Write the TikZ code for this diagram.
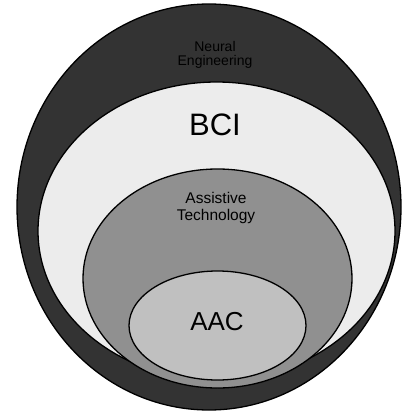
\documentclass[tikz,border=0pt]{standalone}
\usepackage{fontspec}
\setmainfont{Liberation Sans}
\usepackage{xcolor}
\definecolor{necol}{HTML}{333333}
\definecolor{bcicol}{HTML}{ECECEC}
\definecolor{atcol}{HTML}{909090}
\definecolor{aaccol}{HTML}{C0C0C0}
\tikzset{field/.style = {draw=black,line width=1.3pt}}
\tikzset{lbl/.style = {align=center,inner sep=0pt,text=black}}

\begin{document}
\begin{tikzpicture}[x=1pt,y=-1pt]
                \useasboundingbox (0,0) rectangle (402,412);
                \filldraw[field,fill=necol] (209,207) ellipse (192 and 203);
                \filldraw[field,fill=bcicol] (216.5,231) ellipse (178.5 and 149);
                \filldraw[field,fill=atcol] (217.5,278.5) ellipse (134.5 and 109.5);
                \filldraw[field,fill=aaccol] (217.5,325.5) ellipse (88.5 and 54.5);

                \node[lbl,font=\fontsize{14}{14}\selectfont] (NE) at (215,55) {Neural\\Engineering};
                \node[lbl,font=\fontsize{31}{36}\selectfont] (BCI) at (215,125) {BCI};
                \node[lbl,font=\fontsize{15.5}{17}\selectfont] (AT) at (216,208) {Assistive\\Technology};
                \node[lbl,font=\fontsize{26}{30}\selectfont] (AAC) at (217,322) {AAC};
            \end{tikzpicture}
\end{document}
